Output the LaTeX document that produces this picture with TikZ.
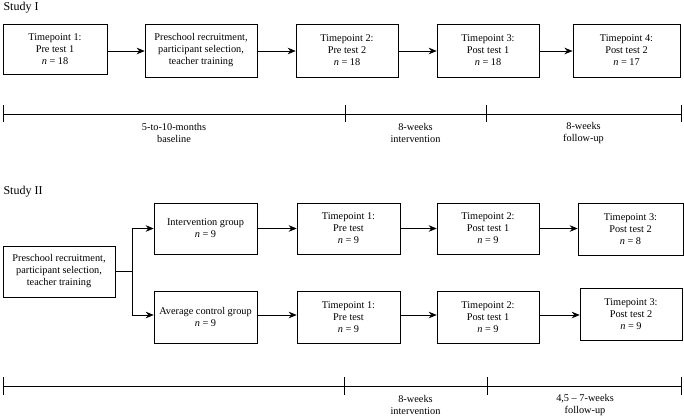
\documentclass[tikz,border=0pt]{standalone}
\usepackage{fontspec}
\setmainfont{Liberation Serif}
\usepackage{tikz}
\usetikzlibrary{arrows.meta}

\tikzset{
	box/.style = {draw, line width = 0.6pt, align = center, inner sep = 1pt,
		font = \fontsize{10.3}{12}\selectfont},
	arr/.style = {draw, line width = 0.6pt, -{Stealth[length = 8pt, width = 6.5pt]}},
	span/.style = {align = center, font = \fontsize{10.3}{12}\selectfont},
	title/.style = {anchor = west, font = \fontsize{12}{14}\selectfont}
}

\begin{document}
\begin{tikzpicture}[x = 1pt, y = -1pt]
							\useasboundingbox (0,0) rectangle (684,418);

							% Study I
							\node [title] (studyA) at (0,8) {Study I};

							\node [box, minimum width = 104pt, minimum height = 50pt] (tpA) at (55,49) {Timepoint 1:\\Pre test 1\\\textit{n} = 18};
							\node [box, minimum width = 112pt, minimum height = 53pt] (recA) at (201,50.5) {Preschool recruitment,\\participant selection,\\teacher training};
							\node [box, minimum width = 102pt, minimum height = 53pt] (tpB) at (347,50.5) {Timepoint 2:\\Pre test 2\\\textit{n} = 18};
							\node [box, minimum width = 102pt, minimum height = 53pt] (tpC) at (488,50.5) {Timepoint 3:\\Post test 1\\\textit{n} = 18};
							\node [box, line width = 1pt, minimum width = 107pt, minimum height = 53pt] (tpD) at (626.5,50.5) {Timepoint 4:\\Post test 2\\\textit{n} = 17};

							\draw [arr] (tpA.east |- 0,51) -- (recA.west |- 0,51);
							\draw [arr] (recA.east |- 0,51) -- (tpB.west |- 0,51);
							\draw [arr] (tpB.east |- 0,51) -- (tpC.west |- 0,51);
							\draw [arr] (tpC.east |- 0,51) -- (tpD.west |- 0,51);

							\draw [line width = 0.8pt] (3,114) -- (681,114);
							\foreach \x in {3,345,486,681}
							{
								\draw [line width = 0.8pt] (\x,105) -- (\x,122);
							}

							\node [span] (baseA) at (174,133) {5-to-10-months\\baseline};
							\node [span] (intA) at (415.5,133) {8-weeks\\intervention};
							\node [span] (folA) at (583.5,133) {8-weeks\\follow-up};

							% Study II
							\node [title] (studyB) at (0,192) {Study II};

							\node [box, minimum width = 112pt, minimum height = 51pt] (recB) at (59,271.5) {Preschool recruitment,\\participant selection,\\teacher training};
							\node [box, minimum width = 103pt, minimum height = 51pt] (grpI) at (205.5,228.5) {Intervention group\\\textit{n} = 9};
							\node [box, minimum width = 103pt, minimum height = 52pt] (grpC) at (205.5,317) {Average control group\\\textit{n} = 9};

							\node [box, minimum width = 103pt, minimum height = 51pt] (preI) at (348.5,228.5) {Timepoint 1:\\Pre test\\\textit{n} = 9};
							\node [box, minimum width = 102pt, minimum height = 51pt] (postI) at (488,228.5) {Timepoint 2:\\Post test 1\\\textit{n} = 9};
							\node [box, minimum width = 105pt, minimum height = 52pt] (fupI) at (630.5,229) {Timepoint 3:\\Post test 2\\\textit{n} = 8};

							\node [box, minimum width = 103pt, minimum height = 52pt] (preC) at (348.5,317) {Timepoint 1:\\Pre test\\\textit{n} = 9};
							\node [box, minimum width = 102pt, minimum height = 52pt] (postC) at (488,317) {Timepoint 2:\\Post test 1\\\textit{n} = 9};
							\node [box, minimum width = 102pt, minimum height = 52pt] (fupC) at (631,314) {Timepoint 3:\\Post test 2\\\textit{n} = 9};

							\coordinate (split) at (132,271.5);
							\draw [line width = 0.6pt] (recB.east) -- (split);
							\draw [arr] (split) |- (grpI.west);
							\draw [arr] (split) |- (grpC.west |- 0,315);

							\draw [arr] (grpI) -- (preI);
							\draw [arr] (preI) -- (postI);
							\draw [arr] (postI) -- (fupI.west |- postI);
							\draw [arr] (grpC.east |- 0,315) -- (preC.west |- 0,315);
							\draw [arr] (preC.east |- 0,315) -- (postC.west |- 0,315);
							\draw [arr] (postC.east |- 0,315) -- (fupC.west |- 0,315);

							\draw [line width = 0.8pt] (3,386) -- (681,386);
							\foreach \x in {3,344,487,681}
							{
								\draw [line width = 0.8pt] (\x,377) -- (\x,395);
							}

							\node [span] (intB) at (415.5,405) {8-weeks\\intervention};
							\node [span] (folB) at (585,405) {4,5 – 7-weeks\\follow-up};
						\end{tikzpicture}
\end{document}
